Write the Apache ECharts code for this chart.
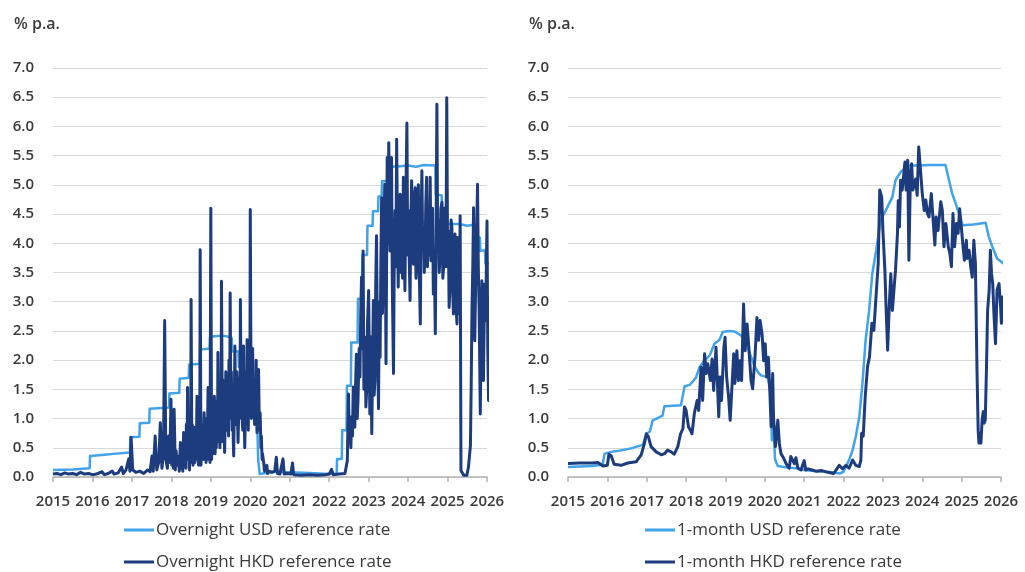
<!DOCTYPE html>
<html>
<head>
<meta charset="utf-8">
<script src="https://cdn.jsdelivr.net/npm/echarts@6/dist/echarts.min.js"></script>
<style>
  html, body { margin: 0; padding: 0; background: #ffffff; }
  #chart { width: 1025px; height: 572px; }
</style>
</head>
<body>
<div id="chart"></div>
<script>
// Year ticks and value ticks shared by both panels
const yearTicks = [2015, 2016, 2017, 2018, 2019, 2020, 2021, 2022, 2023, 2024, 2025, 2026];
const rateTicks = [0.0, 0.5, 1.0, 1.5, 2.0, 2.5, 3.0, 3.5, 4.0, 4.5, 5.0, 5.5, 6.0, 6.5, 7.0];
const unitLabel = '% p.a.';

const seriesNames = {
  onUsd: 'Overnight USD reference rate',
  onHkd: 'Overnight HKD reference rate',
  mUsd: '1-month USD reference rate',
  mHkd: '1-month HKD reference rate'
};

// Overnight USD reference rate: [year, % p.a.]
const onUsd = [
  [2015.00,0.12],[2015.50,0.13],[2015.93,0.15],[2015.94,0.36],[2016.30,0.38],[2016.60,0.40],
  [2016.95,0.42],[2016.96,0.68],[2017.19,0.69],[2017.20,0.92],[2017.44,0.93],[2017.45,1.17],
  [2017.94,1.19],[2017.95,1.43],[2018.20,1.44],[2018.21,1.68],[2018.44,1.70],[2018.45,1.92],
  [2018.72,1.94],[2018.73,2.18],[2018.97,2.20],[2018.98,2.40],[2019.30,2.42],[2019.45,2.40],
  [2019.53,2.38],[2019.54,2.15],[2019.70,2.15],[2019.71,1.88],[2019.84,1.86],[2019.85,1.60],
  [2020.15,1.58],[2020.17,1.10],[2020.20,0.30],[2020.24,0.05],[2020.60,0.09],[2021.00,0.08],
  [2021.50,0.07],[2022.00,0.05],[2022.19,0.06],[2022.20,0.31],[2022.32,0.31],[2022.33,0.80],
  [2022.44,0.80],[2022.45,1.56],[2022.55,1.56],[2022.56,2.30],[2022.72,2.30],[2022.73,3.05],
  [2022.83,3.05],[2022.84,3.80],[2022.96,3.80],[2022.97,4.30],[2023.10,4.30],[2023.11,4.55],
  [2023.24,4.55],[2023.25,4.80],[2023.33,4.81],[2023.34,5.06],[2023.57,5.07],[2023.58,5.31],
  [2023.80,5.32],[2024.00,5.33],[2024.20,5.31],[2024.40,5.34],[2024.69,5.33],[2024.70,4.84],
  [2024.85,4.82],[2024.86,4.58],[2024.95,4.58],[2024.96,4.33],[2025.30,4.33],[2025.50,4.30],
  [2025.70,4.32],[2025.71,4.10],[2025.82,4.10],[2025.83,3.87],[2025.95,3.88],[2025.96,3.65],
  [2026.05,3.65]
];

// Overnight HKD reference rate: [year, % p.a.]
const onHkd = [
  [2015.00,0.05],[2015.10,0.06],[2015.20,0.04],[2015.30,0.07],[2015.40,0.05],[2015.50,0.06],
  [2015.60,0.04],[2015.70,0.08],[2015.80,0.05],[2015.90,0.06],[2016.00,0.04],[2016.10,0.05],
  [2016.24,0.09],[2016.30,0.04],[2016.40,0.06],[2016.50,0.10],[2016.55,0.05],[2016.65,0.07],
  [2016.74,0.17],[2016.78,0.06],[2016.85,0.12],[2016.92,0.31],[2016.95,0.10],[2016.98,0.68],
  [2017.02,0.12],[2017.10,0.08],[2017.20,0.10],[2017.30,0.06],[2017.40,0.12],[2017.46,0.09],
  [2017.51,0.36],[2017.54,0.10],[2017.59,0.70],[2017.63,0.12],[2017.68,0.25],[2017.72,0.93],
  [2017.76,0.15],[2017.80,0.40],[2017.83,2.68],[2017.86,0.30],[2017.90,0.15],[2017.93,0.70],
  [2017.96,0.25],[2017.99,1.33],[2018.01,0.20],[2018.03,0.55],[2018.05,0.15],[2018.07,1.16],
  [2018.10,0.12],[2018.12,0.45],[2018.15,0.20],[2018.18,0.35],[2018.20,0.10],[2018.23,0.59],
  [2018.25,0.15],[2018.27,0.40],[2018.29,0.10],[2018.31,0.76],[2018.33,0.20],[2018.35,0.50],
  [2018.37,0.15],[2018.38,0.90],[2018.40,0.40],[2018.41,1.53],[2018.43,0.30],[2018.44,0.80],
  [2018.46,0.12],[2018.47,0.50],[2018.49,0.25],[2018.50,3.04],[2018.52,0.30],[2018.53,0.90],
  [2018.55,0.20],[2018.56,0.60],[2018.57,0.30],[2018.58,0.85],[2018.60,0.25],[2018.61,0.70],
  [2018.63,0.35],[2018.65,1.38],[2018.67,0.30],[2018.68,0.80],[2018.69,0.20],[2018.70,0.60],
  [2018.72,0.30],[2018.73,3.89],[2018.75,0.20],[2018.76,0.60],[2018.78,0.40],[2018.79,0.90],
  [2018.81,0.30],[2018.83,1.10],[2018.85,0.40],[2018.86,0.80],[2018.88,0.25],[2018.90,1.00],
  [2018.91,0.40],[2018.93,1.53],[2018.95,0.30],[2018.96,0.70],[2018.98,0.25],[2019.00,4.60],
  [2019.02,0.30],[2019.03,0.80],[2019.05,0.40],[2019.06,1.10],[2019.08,0.50],[2019.09,1.38],
  [2019.11,0.40],[2019.12,0.90],[2019.14,0.50],[2019.15,1.30],[2019.17,0.60],[2019.18,2.13],
  [2019.20,0.70],[2019.21,1.40],[2019.23,0.50],[2019.24,0.90],[2019.26,0.60],[2019.27,3.35],
  [2019.29,1.00],[2019.30,1.67],[2019.32,0.60],[2019.33,1.10],[2019.35,0.42],[2019.37,1.20],
  [2019.38,1.80],[2019.40,0.80],[2019.41,1.60],[2019.43,0.90],[2019.44,1.40],[2019.45,0.70],
  [2019.46,2.00],[2019.48,1.20],[2019.49,3.15],[2019.51,1.00],[2019.52,1.80],[2019.54,0.80],
  [2019.55,1.40],[2019.57,0.60],[2019.58,0.36],[2019.60,1.50],[2019.61,2.24],[2019.63,0.90],
  [2019.64,1.60],[2019.65,1.00],[2019.66,1.80],[2019.68,0.90],[2019.69,0.59],[2019.71,1.20],
  [2019.72,1.70],[2019.74,1.10],[2019.75,3.04],[2019.77,1.00],[2019.78,1.70],[2019.80,0.90],
  [2019.81,0.80],[2019.82,1.60],[2019.83,2.24],[2019.85,0.90],[2019.86,0.50],[2019.88,1.20],
  [2019.89,1.80],[2019.91,1.10],[2019.92,2.35],[2019.94,1.20],[2019.95,0.80],[2019.96,1.60],
  [2019.97,1.90],[2019.99,1.20],[2020.00,4.58],[2020.02,1.50],[2020.03,1.00],[2020.05,1.80],
  [2020.06,2.20],[2020.08,1.20],[2020.09,1.60],[2020.11,0.90],[2020.12,1.30],[2020.14,0.90],
  [2020.15,2.00],[2020.17,0.76],[2020.19,1.20],[2020.21,1.84],[2020.23,0.80],[2020.25,1.10],
  [2020.27,0.50],[2020.28,0.70],[2020.30,0.30],[2020.31,0.40],[2020.34,0.25],[2020.36,0.10],
  [2020.38,0.13],[2020.42,0.20],[2020.44,0.06],[2020.47,0.10],[2020.55,0.08],[2020.62,0.10],
  [2020.66,0.34],[2020.69,0.06],[2020.75,0.05],[2020.80,0.08],[2020.83,0.31],[2020.86,0.05],
  [2020.95,0.06],[2021.03,0.05],[2021.07,0.24],[2021.10,0.04],[2021.30,0.03],[2021.50,0.04],
  [2021.70,0.03],[2021.90,0.04],[2022.00,0.05],[2022.06,0.13],[2022.10,0.04],[2022.25,0.05],
  [2022.40,0.06],[2022.46,0.28],[2022.49,1.42],[2022.51,0.60],[2022.53,0.85],[2022.55,0.50],
  [2022.57,1.03],[2022.59,0.70],[2022.61,1.54],[2022.63,1.00],[2022.65,0.85],[2022.67,1.60],
  [2022.69,2.10],[2022.71,1.00],[2022.73,1.31],[2022.76,2.20],[2022.78,1.71],[2022.80,2.80],
  [2022.82,3.42],[2022.84,2.20],[2022.86,3.87],[2022.88,1.50],[2022.91,2.39],[2022.93,1.20],
  [2022.95,1.48],[2022.97,2.60],[2023.00,3.19],[2023.02,1.80],[2023.03,1.08],[2023.05,2.40],
  [2023.08,0.74],[2023.10,2.00],[2023.12,3.02],[2023.14,1.40],[2023.16,1.65],[2023.18,3.30],
  [2023.20,4.13],[2023.22,2.50],[2023.25,1.17],[2023.27,3.00],[2023.29,2.05],[2023.31,3.70],
  [2023.33,4.78],[2023.35,2.80],[2023.37,3.36],[2023.39,4.40],[2023.41,5.01],[2023.43,3.20],
  [2023.44,1.94],[2023.46,4.20],[2023.47,5.47],[2023.49,4.00],[2023.51,5.72],[2023.53,4.50],
  [2023.54,3.87],[2023.56,4.80],[2023.58,5.47],[2023.60,3.30],[2023.63,1.77],[2023.65,3.80],
  [2023.67,4.56],[2023.69,3.60],[2023.71,5.78],[2023.73,4.20],[2023.75,3.25],[2023.77,4.60],
  [2023.80,4.84],[2023.82,3.50],[2023.84,4.10],[2023.86,3.40],[2023.88,5.13],[2023.90,4.00],
  [2023.92,3.19],[2023.94,4.60],[2023.97,6.06],[2023.99,3.80],[2024.01,4.56],[2024.03,3.70],
  [2024.05,3.02],[2024.07,4.40],[2024.09,5.07],[2024.11,3.80],[2024.14,3.64],[2024.16,4.80],
  [2024.18,4.95],[2024.20,3.40],[2024.22,3.70],[2024.24,4.60],[2024.26,5.00],[2024.28,3.60],
  [2024.31,2.62],[2024.33,4.40],[2024.35,5.24],[2024.37,3.90],[2024.39,4.27],[2024.41,3.50],
  [2024.43,3.82],[2024.45,4.70],[2024.47,5.13],[2024.49,3.60],[2024.52,4.33],[2024.54,3.80],
  [2024.56,5.13],[2024.58,3.70],[2024.60,3.93],[2024.62,4.60],[2024.64,3.13],[2024.66,3.90],
  [2024.69,2.45],[2024.71,4.20],[2024.73,6.38],[2024.75,3.90],[2024.77,4.38],[2024.79,3.50],
  [2024.81,3.82],[2024.83,4.60],[2024.86,4.70],[2024.88,3.40],[2024.90,3.59],[2024.92,4.60],
  [2024.94,4.50],[2024.96,3.60],[2024.98,6.49],[2025.00,3.90],[2025.02,4.21],[2025.04,2.90],
  [2025.07,3.42],[2025.09,4.40],[2025.11,4.27],[2025.13,3.20],[2025.15,2.79],[2025.17,4.00],
  [2025.19,4.16],[2025.21,3.00],[2025.24,2.62],[2025.26,4.10],[2025.28,3.90],[2025.30,2.80],
  [2025.32,4.47],[2025.34,0.11],[2025.41,0.03],[2025.49,0.03],[2025.53,0.17],[2025.58,0.54],
  [2025.60,1.60],[2025.62,2.90],[2025.64,3.60],[2025.66,4.61],[2025.69,2.33],[2025.71,3.20],
  [2025.73,3.87],[2025.76,5.01],[2025.78,3.60],[2025.80,2.90],[2025.83,1.08],[2025.85,2.40],
  [2025.87,3.36],[2025.89,2.20],[2025.91,1.65],[2025.94,3.30],[2025.96,2.68],[2025.98,3.40],
  [2026.00,4.38],[2026.02,2.20],[2026.04,1.31],[2026.06,2.50]
];

// 1-month USD reference rate: [year, % p.a.]
const mUsd = [
  [2015.00,0.17],[2015.30,0.18],[2015.60,0.19],[2015.88,0.21],[2015.93,0.40],[2016.10,0.43],
  [2016.30,0.45],[2016.60,0.49],[2016.90,0.55],[2016.99,0.74],[2017.08,0.78],[2017.15,0.97],
  [2017.25,1.00],[2017.40,1.05],[2017.45,1.21],[2017.87,1.23],[2017.96,1.55],[2018.10,1.58],
  [2018.25,1.70],[2018.34,1.88],[2018.45,1.98],[2018.60,2.08],[2018.72,2.28],[2018.85,2.35],
  [2018.93,2.48],[2019.10,2.50],[2019.23,2.49],[2019.40,2.42],[2019.52,2.31],[2019.60,2.15],
  [2019.73,1.91],[2019.82,1.80],[2019.90,1.74],[2020.07,1.71],[2020.15,1.43],[2020.18,0.63],
  [2020.21,1.03],[2020.26,0.30],[2020.33,0.19],[2020.37,0.18],[2020.60,0.16],[2020.83,0.15],
  [2021.00,0.12],[2021.30,0.10],[2021.60,0.09],[2021.90,0.06],[2022.00,0.09],[2022.14,0.29],
  [2022.23,0.46],[2022.31,0.69],[2022.40,1.03],[2022.48,1.60],[2022.56,2.34],[2022.65,2.85],
  [2022.73,3.48],[2022.83,3.88],[2022.94,4.39],[2023.07,4.56],[2023.24,4.79],[2023.32,5.08],
  [2023.45,5.22],[2023.66,5.33],[2023.90,5.33],[2024.20,5.34],[2024.59,5.34],[2024.68,5.08],
  [2024.76,4.85],[2024.85,4.68],[2024.93,4.51],[2025.02,4.31],[2025.30,4.32],[2025.61,4.35],
  [2025.69,4.11],[2025.78,3.94],[2025.90,3.74],[2026.07,3.65]
];

// 1-month HKD reference rate: [year, % p.a.]
const mHkd = [
  [2015.00,0.23],[2015.30,0.24],[2015.60,0.24],[2015.76,0.25],[2015.89,0.19],[2016.00,0.20],
  [2016.04,0.39],[2016.10,0.36],[2016.17,0.22],[2016.35,0.20],[2016.52,0.24],[2016.73,0.26],
  [2016.86,0.38],[2016.94,0.57],[2016.99,0.74],[2017.04,0.69],[2017.11,0.52],[2017.24,0.43],
  [2017.37,0.38],[2017.45,0.40],[2017.53,0.46],[2017.62,0.43],[2017.70,0.39],[2017.79,0.52],
  [2017.86,0.74],[2017.92,0.83],[2017.96,1.20],[2018.00,1.14],[2018.06,0.86],[2018.11,0.80],
  [2018.15,0.74],[2018.21,1.09],[2018.28,1.31],[2018.32,1.14],[2018.38,1.88],[2018.42,1.31],
  [2018.47,2.11],[2018.51,1.77],[2018.55,1.94],[2018.62,1.65],[2018.66,2.02],[2018.70,1.48],
  [2018.76,2.22],[2018.83,1.03],[2018.86,1.71],[2018.90,1.31],[2018.96,2.22],[2018.99,2.39],
  [2019.03,1.71],[2019.08,1.37],[2019.12,0.97],[2019.16,1.48],[2019.21,2.11],[2019.24,1.60],
  [2019.29,2.16],[2019.33,1.65],[2019.37,1.99],[2019.41,1.65],[2019.46,2.96],[2019.50,2.16],
  [2019.55,2.62],[2019.60,2.16],[2019.65,1.65],[2019.69,1.51],[2019.75,2.05],[2019.80,2.73],
  [2019.84,2.34],[2019.88,2.68],[2019.93,2.45],[2019.97,1.99],[2020.01,2.28],[2020.05,1.71],
  [2020.09,2.05],[2020.13,1.43],[2020.16,0.86],[2020.20,1.77],[2020.22,1.03],[2020.27,0.52],
  [2020.33,0.97],[2020.37,0.57],[2020.41,0.40],[2020.48,0.32],[2020.54,0.23],[2020.62,0.15],
  [2020.66,0.35],[2020.70,0.38],[2020.75,0.23],[2020.79,0.33],[2020.84,0.15],[2020.92,0.12],
  [2020.96,0.20],[2021.00,0.28],[2021.04,0.12],[2021.10,0.14],[2021.20,0.12],[2021.30,0.10],
  [2021.45,0.11],[2021.60,0.08],[2021.75,0.06],[2021.89,0.20],[2021.97,0.14],[2022.06,0.20],
  [2022.14,0.15],[2022.23,0.29],[2022.31,0.20],[2022.40,0.18],[2022.44,0.29],[2022.46,0.75],
  [2022.50,0.70],[2022.55,1.37],[2022.61,1.89],[2022.66,2.06],[2022.72,2.63],[2022.77,2.51],
  [2022.83,3.14],[2022.88,3.65],[2022.92,4.91],[2022.97,4.79],[2023.00,4.22],[2023.05,3.54],
  [2023.08,2.91],[2023.12,2.17],[2023.16,2.91],[2023.20,3.48],[2023.24,2.85],[2023.28,3.20],
  [2023.32,3.54],[2023.37,4.17],[2023.39,4.73],[2023.42,4.28],[2023.45,5.08],[2023.49,4.91],
  [2023.56,5.39],[2023.59,4.91],[2023.63,5.42],[2023.66,3.71],[2023.70,5.20],[2023.73,5.36],
  [2023.76,4.91],[2023.83,5.10],[2023.87,4.82],[2023.91,5.65],[2023.96,5.62],[2024.00,4.85],
  [2024.05,4.56],[2024.09,4.74],[2024.13,4.51],[2024.17,4.45],[2024.23,4.85],[2024.27,4.45],
  [2024.32,3.97],[2024.35,4.45],[2024.40,4.22],[2024.47,4.71],[2024.51,4.56],[2024.55,3.94],
  [2024.60,4.34],[2024.66,3.94],[2024.70,3.83],[2024.74,3.60],[2024.78,4.51],[2024.82,3.94],
  [2024.87,4.34],[2024.91,4.17],[2024.95,4.59],[2025.00,4.22],[2025.03,3.99],[2025.07,3.71],
  [2025.12,4.05],[2025.14,3.74],[2025.19,3.88],[2025.23,3.60],[2025.27,3.42],[2025.31,4.05],
  [2025.35,3.65],[2025.39,1.83],[2025.42,0.80],[2025.44,0.58],[2025.46,0.75],[2025.49,0.58],
  [2025.52,0.97],[2025.55,1.12],[2025.57,0.92],[2025.60,0.97],[2025.63,1.83],[2025.66,2.85],
  [2025.70,3.20],[2025.73,3.88],[2025.76,3.48],[2025.79,3.31],[2025.82,2.80],[2025.86,2.28],
  [2025.90,3.20],[2025.95,3.31],[2025.99,2.91],[2026.01,2.63],[2026.04,3.08],[2026.07,2.70]
];

const LIGHT = '#41a3ea';
const DARK = '#1d3c7d';
const TEXT = '#3a3a3a';
const FONT = '"Open Sans", "Noto Sans", sans-serif';

function xAxisFor(gridIndex) {
  return {
    type: 'value', gridIndex,
    min: yearTicks[0], max: yearTicks[yearTicks.length - 1], interval: 1,
    axisLine: { show: true, lineStyle: { color: '#b3b3b3', width: 1.5 } },
    axisTick: { show: true, length: 5, lineStyle: { color: '#b3b3b3', width: 1.5 } },
    splitLine: { show: false },
    axisLabel: {
      margin: 17, color: TEXT, fontFamily: FONT, fontSize: 15, fontWeight: 600,
      formatter: v => (yearTicks.indexOf(v) >= 0 ? String(v) : '')
    }
  };
}
function yAxisFor(gridIndex) {
  return {
    type: 'value', gridIndex,
    min: rateTicks[0], max: rateTicks[rateTicks.length - 1], interval: 0.5,
    axisLine: { show: false }, axisTick: { show: false },
    splitLine: { show: true, lineStyle: { color: '#d9d9d9', width: 1 } },
    axisLabel: {
      margin: 19, color: TEXT, fontFamily: FONT, fontSize: 15, fontWeight: 600,
      formatter: v => v.toFixed(1)
    }
  };
}
function lineSeries(name, data, color, width, idx) {
  return {
    name, type: 'line', data, xAxisIndex: idx, yAxisIndex: idx,
    symbol: 'none', clip: false, animation: false,
    lineStyle: { color, width, join: 'round' }, itemStyle: { color }
  };
}
// One legend entry per component so each sits on its own row
function legendItem(name, left, top) {
  return {
    data: [name], left, top, orient: 'horizontal',
    icon: 'rect', itemWidth: 30, itemHeight: 3,
    textStyle: { color: TEXT, fontFamily: FONT, fontSize: 17, lineHeight: 20, padding: [0, 0, 0, -3] },
    selectedMode: false
  };
}

const chart = echarts.init(document.getElementById('chart'), null, { renderer: 'canvas' });
chart.setOption({
  backgroundColor: '#ffffff',
  animation: false,
  title: [
    { text: unitLabel, left: 9, top: 11, textStyle: { color: TEXT, fontFamily: FONT, fontSize: 16, fontWeight: 600 } },
    { text: unitLabel, left: 524, top: 11, textStyle: { color: TEXT, fontFamily: FONT, fontSize: 16, fontWeight: 600 } }
  ],
  grid: [
    { left: 53, right: 538, top: 68, bottom: 95 },
    { left: 568, right: 24, top: 68, bottom: 95 }
  ],
  xAxis: [xAxisFor(0), xAxisFor(1)],
  yAxis: [yAxisFor(0), yAxisFor(1)],
  legend: [
    legendItem(seriesNames.onUsd, 119, 515),
    legendItem(seriesNames.onHkd, 119, 547),
    legendItem(seriesNames.mUsd, 640, 515),
    legendItem(seriesNames.mHkd, 640, 547)
  ],
  series: [
    lineSeries(seriesNames.onUsd, onUsd, LIGHT, 2.5, 0),
    lineSeries(seriesNames.onHkd, onHkd, DARK, 3, 0),
    lineSeries(seriesNames.mUsd, mUsd, LIGHT, 2.5, 1),
    lineSeries(seriesNames.mHkd, mHkd, DARK, 3, 1)
  ]
});
</script>
</body>
</html>
